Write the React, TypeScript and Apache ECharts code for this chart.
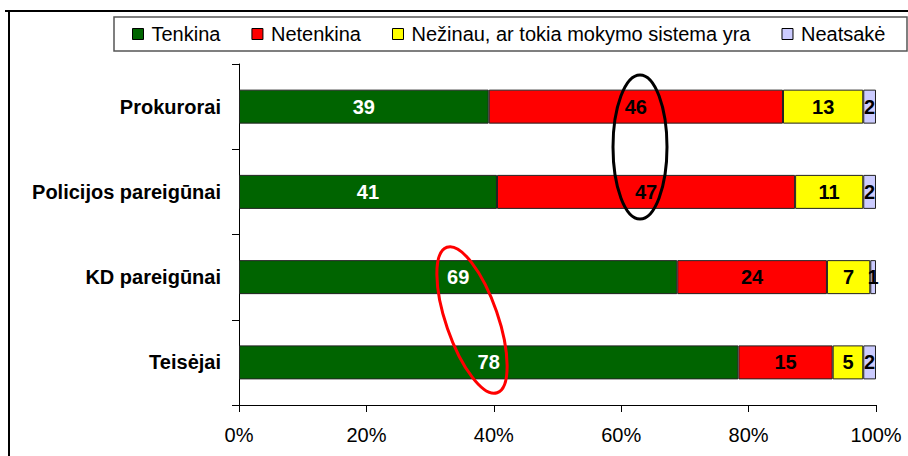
import React, { useEffect, useRef } from "react";
import * as echarts from "echarts";

const categories = ["Prokurorai", "Policijos pareigūnai", "KD pareigūnai", "Teisėjai"];
const seriesNames = ["Tenkina", "Netenkina", "Nežinau, ar tokia mokymo sistema yra", "Neatsakė"];
const tenkina = [39.2, 40.5, 68.8, 78.4];
const netenkina = [46.2, 46.8, 23.5, 14.8];
const nezinau = [12.6, 10.7, 6.8, 4.8];
const neatsake = [2.0, 2.0, 0.9, 2.0];
const colors = ["#006400", "#ff0000", "#ffff00", "#ccccff"];
const labelColors = ["#ffffff", "#000000", "#000000", "#000000"];
const xTicks = [0, 20, 40, 60, 80, 100];

const FONT = "'Liberation Sans', Arial, sans-serif";

export default function App() {
  const ref = useRef<HTMLDivElement>(null);
  useEffect(() => {
    if (!ref.current) return;
    const chart = echarts.init(ref.current, null, { renderer: "svg" });
    const values = [tenkina, netenkina, nezinau, neatsake];
    chart.setOption({
      animation: false,
      backgroundColor: "#ffffff",
      textStyle: { fontFamily: FONT },
      grid: { left: 239, right: 32, top: 64, bottom: 51, containLabel: false },
      legend: {
        left: 132,
        top: 24,
        padding: 0,
        itemGap: 31,
        itemWidth: 11,
        itemHeight: 11,
        icon: "rect",
        selectedMode: false,
        data: seriesNames,
        textStyle: { fontSize: 20, color: "#000", fontFamily: FONT, padding: [0, 0, 0, 3] },
        itemStyle: { borderColor: "#000", borderWidth: 1 },
      },
      xAxis: {
        type: "value",
        min: xTicks[0],
        max: xTicks[xTicks.length - 1],
        interval: 20,
        axisLine: { show: true, lineStyle: { color: "#000", width: 1 } },
        axisTick: { show: true, length: 7, lineStyle: { color: "#000" } },
        splitLine: { show: false },
        axisLabel: { formatter: "{value}%", fontSize: 20, color: "#000", margin: 20, fontFamily: FONT },
      },
      yAxis: {
        type: "category",
        inverse: true,
        data: categories,
        axisLine: { show: true, lineStyle: { color: "#000", width: 1 } },
        axisTick: { show: true, length: 7, lineStyle: { color: "#000" } },
        axisLabel: { fontSize: 20, fontWeight: "bold", color: "#000", margin: 18, fontFamily: FONT },
      },
      series: seriesNames.map((name, i) => ({
        name,
        type: "bar",
        stack: "total",
        barWidth: 34,
        data: values[i],
        itemStyle: { color: colors[i], borderColor: "#222", borderWidth: 1 },
        label: {
          show: true,
          position: "inside",
          fontSize: 20,
          fontWeight: "bold",
          color: labelColors[i],
          fontFamily: FONT,
          formatter: (p: any) => String(Math.round(p.value)),
        },
      })),
      graphic: [
        { type: "line", shape: { x1: 5, y1: 11, x2: 908, y2: 11 }, style: { stroke: "#000", lineWidth: 2 }, z: 100 },
        { type: "line", shape: { x1: 9, y1: 11, x2: 9, y2: 456 }, style: { stroke: "#000", lineWidth: 2 }, z: 100 },
        { type: "rect", shape: { x: 114, y: 17, width: 793, height: 34 }, style: { fill: "none", stroke: "#555", lineWidth: 1.5 }, z: 100 },
        { type: "ellipse", x: 640, y: 147, shape: { cx: 0, cy: 0, rx: 27, ry: 72 }, style: { fill: "none", stroke: "#000", lineWidth: 3 }, z: 100 },
        { type: "ellipse", x: 472, y: 320, rotation: 0.332, shape: { cx: 0, cy: 0, rx: 26, ry: 77 }, style: { fill: "none", stroke: "#ff0000", lineWidth: 3 }, z: 100 },
      ],
    });
    return () => chart.dispose();
  }, []);
  return <div ref={ref} style={{ position: "fixed", left: 0, top: 0, width: 908, height: 456 }} />;
}
